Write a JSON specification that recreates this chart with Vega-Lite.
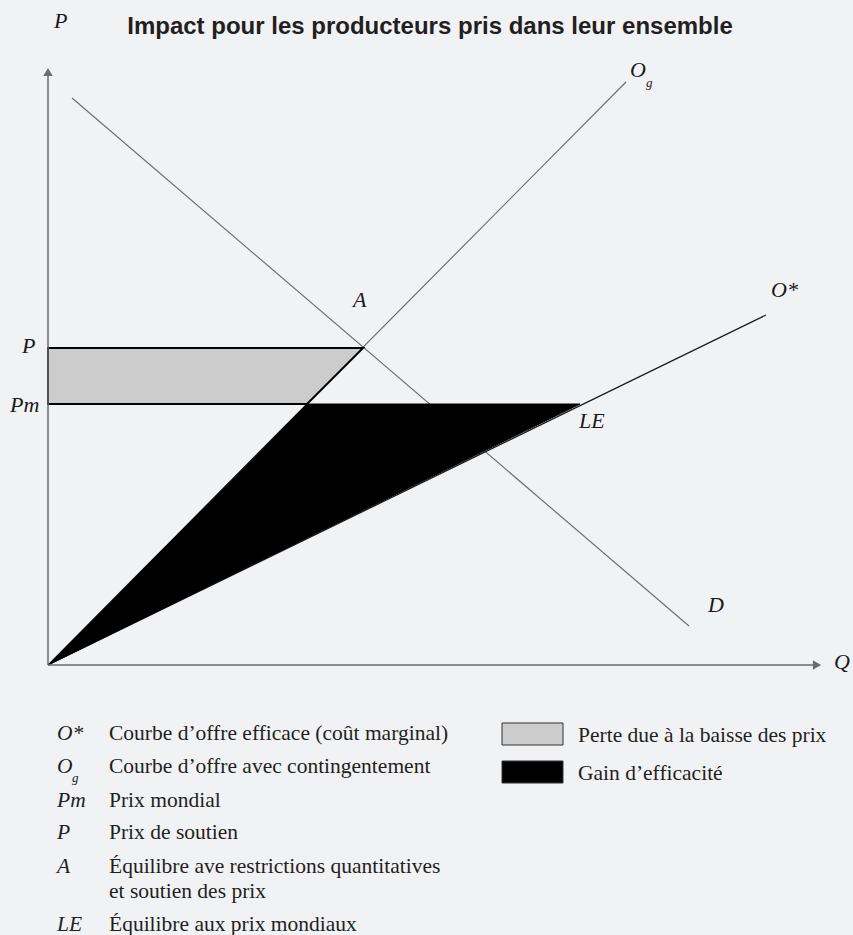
{
  "$schema": "https://vega.github.io/schema/vega-lite/v6.json",
  "width": 853,
  "height": 935,
  "padding": 0,
  "autosize": {"type": "none"},
  "background": "#f1f2f4",
  "config": {"view": {"stroke": null}},
  "datasets": {
    "curves": [
      {"curve": "D", "q": 24, "p": 567},
      {"curve": "D", "q": 641, "p": 39},
      {"curve": "Og", "q": 0, "p": 0},
      {"curve": "Og", "q": 578, "p": 583},
      {"curve": "O*", "q": 0, "p": 0},
      {"curve": "O*", "q": 718, "p": 350}
    ],
    "loss": [
      {"p": 261, "q": 0, "q2": 259},
      {"p": 317, "q": 0, "q2": 315}
    ],
    "gain": [
      {"p": 0, "q": 0, "q2": 0},
      {"p": 261, "q": 259, "q2": 532}
    ],
    "axes": [
      {"axis": "Q", "q": 0, "p": 0, "q2": 766, "p2": 0},
      {"axis": "P", "q": 0, "p": 0, "q2": 0, "p2": 590}
    ],
    "arrows": [
      {"dir": "right", "q": 769, "p": 0},
      {"dir": "up", "q": 0, "p": 593}
    ],
    "pointLabels": [
      {"label": "P", "q": 6, "p": 637},
      {"label": "Q", "q": 786, "p": -4},
      {"label": "O", "q": 582, "p": 588},
      {"label": "O*", "q": 723, "p": 368},
      {"label": "A", "q": 305, "p": 358},
      {"label": "LE", "q": 531, "p": 237},
      {"label": "D", "q": 660, "p": 53},
      {"label": "P", "q": -26, "p": 312},
      {"label": "Pm", "q": -38, "p": 253}
    ],
    "subscripts": [
      {"label": "g", "q": 598, "p": 578},
      {"label": "g", "q": 24, "p": -117}
    ],
    "legendSymbols": [
      {"label": "O*", "q": 9, "p": -75},
      {"label": "O", "q": 9, "p": -108},
      {"label": "Pm", "q": 9, "p": -142},
      {"label": "P", "q": 9, "p": -174},
      {"label": "A", "q": 9, "p": -208},
      {"label": "LE", "q": 9, "p": -266}
    ],
    "legendTexts": [
      {"label": "Courbe d’offre efficace (coût marginal)", "q": 61, "p": -75},
      {"label": "Courbe d’offre avec contingentement", "q": 61, "p": -108},
      {"label": "Prix mondial", "q": 61, "p": -142},
      {"label": "Prix de soutien", "q": 61, "p": -174},
      {"label": "Équilibre ave restrictions quantitatives", "q": 61, "p": -208},
      {"label": "et soutien des prix", "q": 61, "p": -233},
      {"label": "Équilibre aux prix mondiaux", "q": 61, "p": -266},
      {"label": "Perte due à la baisse des prix", "q": 530, "p": -77},
      {"label": "Gain d’efficacité", "q": 530, "p": -115}
    ],
    "swatches": [
      {"item": "Perte", "q": 454, "q2": 515, "p": -58, "p2": -80},
      {"item": "Gain", "q": 454, "q2": 515, "p": -96, "p2": -118}
    ],
    "titles": [
      {"label": "Impact pour les producteurs pris dans leur ensemble", "q": 382, "p": 631}
    ]
  },
  "layer": [
    {
      "data": {"name": "curves"},
      "mark": {"type": "line", "strokeWidth": 1.2},
      "encoding": {
        "x": {"field": "q", "type": "quantitative", "scale": {"domain": [-48, 805], "nice": false, "zero": false}, "axis": null},
        "y": {"field": "p", "type": "quantitative", "scale": {"domain": [-270, 665], "nice": false, "zero": false}, "axis": null},
        "detail": {"field": "curve"},
        "color": {"field": "curve", "type": "nominal", "scale": {"domain": ["D", "Og", "O*"], "range": ["#6f6f6f", "#6f6f6f", "#1a1a1a"]}, "legend": null}
      }
    },
    {
      "data": {"name": "loss"},
      "mark": {"type": "area", "orient": "horizontal", "fill": "#cccccc", "stroke": "#000000", "strokeWidth": 2, "strokeJoin": "miter"},
      "encoding": {
        "y": {"field": "p", "type": "quantitative", "axis": null},
        "x": {"field": "q", "type": "quantitative", "axis": null},
        "x2": {"field": "q2"}
      }
    },
    {
      "data": {"name": "gain"},
      "mark": {"type": "area", "orient": "horizontal", "fill": "#000000", "stroke": "#000000", "strokeWidth": 1},
      "encoding": {
        "y": {"field": "p", "type": "quantitative", "axis": null},
        "x": {"field": "q", "type": "quantitative", "axis": null},
        "x2": {"field": "q2"}
      }
    },
    {
      "data": {"name": "axes"},
      "mark": {"type": "rule", "color": "#6b6b6b", "strokeWidth": 1.5},
      "encoding": {
        "x": {"field": "q", "type": "quantitative", "axis": null},
        "x2": {"field": "q2"},
        "y": {"field": "p", "type": "quantitative", "axis": null},
        "y2": {"field": "p2"}
      }
    },
    {
      "data": {"name": "arrows"},
      "mark": {"type": "point", "filled": true, "size": 90, "color": "#6b6b6b", "opacity": 1},
      "encoding": {
        "x": {"field": "q", "type": "quantitative", "axis": null},
        "y": {"field": "p", "type": "quantitative", "axis": null},
        "shape": {"field": "dir", "type": "nominal", "scale": {"domain": ["right", "up"], "range": ["triangle-right", "triangle-up"]}, "legend": null}
      }
    },
    {
      "data": {"name": "pointLabels"},
      "mark": {"type": "text", "font": "Liberation Serif", "fontStyle": "italic", "fontSize": 22, "align": "left", "baseline": "alphabetic", "color": "#1a1a1a"},
      "encoding": {
        "x": {"field": "q", "type": "quantitative", "axis": null},
        "y": {"field": "p", "type": "quantitative", "axis": null},
        "text": {"field": "label"}
      }
    },
    {
      "data": {"name": "subscripts"},
      "mark": {"type": "text", "font": "Liberation Serif", "fontStyle": "italic", "fontSize": 13, "align": "left", "baseline": "alphabetic", "color": "#1a1a1a"},
      "encoding": {
        "x": {"field": "q", "type": "quantitative", "axis": null},
        "y": {"field": "p", "type": "quantitative", "axis": null},
        "text": {"field": "label"}
      }
    },
    {
      "data": {"name": "legendSymbols"},
      "mark": {"type": "text", "font": "Liberation Serif", "fontStyle": "italic", "fontSize": 21.5, "align": "left", "baseline": "alphabetic", "color": "#231f20"},
      "encoding": {
        "x": {"field": "q", "type": "quantitative", "axis": null},
        "y": {"field": "p", "type": "quantitative", "axis": null},
        "text": {"field": "label"}
      }
    },
    {
      "data": {"name": "legendTexts"},
      "mark": {"type": "text", "font": "Liberation Serif", "fontSize": 21.5, "align": "left", "baseline": "alphabetic", "color": "#231f20"},
      "encoding": {
        "x": {"field": "q", "type": "quantitative", "axis": null},
        "y": {"field": "p", "type": "quantitative", "axis": null},
        "text": {"field": "label"}
      }
    },
    {
      "data": {"name": "swatches"},
      "mark": {"type": "rect", "stroke": "#333333", "strokeWidth": 1},
      "encoding": {
        "x": {"field": "q", "type": "quantitative", "axis": null},
        "x2": {"field": "q2"},
        "y": {"field": "p", "type": "quantitative", "axis": null},
        "y2": {"field": "p2"},
        "fill": {"field": "item", "type": "nominal", "scale": {"domain": ["Perte", "Gain"], "range": ["#cccccc", "#000000"]}, "legend": null}
      }
    },
    {
      "data": {"name": "titles"},
      "mark": {"type": "text", "font": "Liberation Sans", "fontWeight": "bold", "fontSize": 24, "align": "center", "baseline": "alphabetic", "color": "#231f20"},
      "encoding": {
        "x": {"field": "q", "type": "quantitative", "axis": null},
        "y": {"field": "p", "type": "quantitative", "axis": null},
        "text": {"field": "label"}
      }
    }
  ]
}
